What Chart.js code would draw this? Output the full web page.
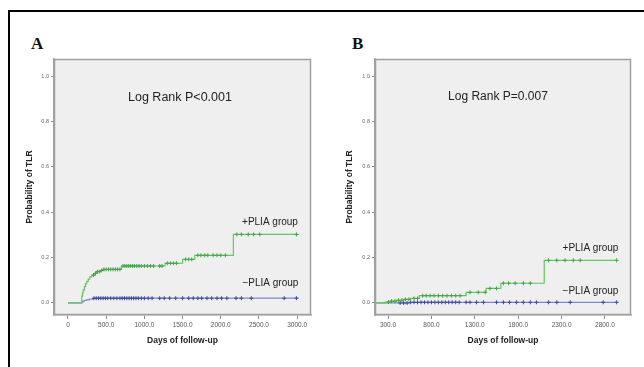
<!DOCTYPE html>
<html>
<head>
<meta charset="utf-8">
<script src="https://cdn.jsdelivr.net/npm/chart.js@4.4.1/dist/chart.umd.min.js"></script>
<style>
    body { margin: 0; background: #fff; width: 644px; height: 367px; overflow: hidden; position: relative; }
    #frame { position: absolute; left: 8px; top: 10px; right: -10px; bottom: -10px; border-left: 2px solid #000; border-top: 2px solid #000; }
    canvas { position: absolute; top: 0; }
    #chartA { left: 0; }
    #chartB { left: 322px; }
    .tag { position: absolute; top: 35px; font: bold 17px/17px "Liberation Serif", "Times New Roman", serif; color: #111; }
</style>
</head>
<body>
<div id="frame"></div>
<div class="tag" style="left:31px">A</div>
<div class="tag" style="left:352px">B</div>
<canvas id="chartA" width="322" height="367"></canvas>
<canvas id="chartB" width="322" height="367"></canvas>
<script>
// --- Axes ---
const yTicks = [0, 0.2, 0.4, 0.6, 0.8, 1.0];
const yTickLabels = ['0.0', '0.2', '0.4', '0.6', '0.8', '1.0'];
const xTicksA = [0, 500, 1000, 1500, 2000, 2500, 3000];
const xTickLabelsA = ['0', '500.0', '1000.0', '1500.0', '2000.0', '2500.0', '3000.0'];
const xTicksB = [300, 800, 1300, 1800, 2300, 2800];
const xTickLabelsB = ['300.0', '800.0', '1300.0', '1800.0', '2300.0', '2800.0'];

// --- Panel A (days, cumulative probability of TLR) ---
const plusTimesA = [0, 180, 190, 200, 215, 230, 245, 265, 285, 310, 340, 375, 420, 470, 700, 1270, 1500, 1660, 2165, 3015];
const plusValuesA = [0, 0.03, 0.045, 0.058, 0.072, 0.085, 0.095, 0.105, 0.115, 0.123, 0.13, 0.138, 0.143, 0.148, 0.163, 0.175, 0.192, 0.21, 0.302, 0.302];
const minusTimesA = [0, 180, 195, 215, 240, 280, 330, 3015];
const minusValuesA = [0, 0.004, 0.008, 0.011, 0.014, 0.017, 0.021, 0.021];
const plusCensorA = [335, 360, 385, 410, 440, 470, 500, 530, 560, 590, 620, 650, 680, 720, 745, 770, 795, 820, 845, 870, 900, 930, 960, 1000, 1040, 1080, 1120,
    1200, 1230, 1300, 1340, 1380, 1420, 1540, 1580, 1620, 1700, 1740, 1790, 1830, 1900, 1950, 2000, 2060, 2210, 2270, 2360, 2430, 2510, 2990];
const minusCensorA = [340, 370, 400, 430, 460, 490, 520, 560, 600, 640, 680, 710, 740, 770, 800, 830, 860, 890, 920, 960, 1000, 1050, 1100,
    1200, 1260, 1330, 1410, 1500, 1580, 1640, 1700, 1750, 1820, 1880, 1950, 2010, 2080, 2200, 2270, 2400, 2830, 2990];

// --- Panel B ---
const plusTimesB = [150, 270, 330, 400, 480, 560, 660, 1200, 1430, 1600, 2100, 2930];
const plusValuesB = [0, 0.004, 0.008, 0.012, 0.016, 0.02, 0.032, 0.047, 0.064, 0.087, 0.188, 0.188];
const minusTimesB = [150, 560, 2930];
const minusValuesB = [0, 0.003, 0.003];
const plusCensorB = [305, 340, 380, 420, 460, 500, 540, 600, 640, 700, 740, 785, 830, 880, 930, 980, 1030, 1080, 1130,
    1245, 1340, 1420, 1475, 1550, 1630, 1690, 1765, 1860, 1940, 2150, 2245, 2340, 2435, 2515, 2935];
const minusCensorB = [440, 480, 520, 560, 600, 640, 680, 720, 760, 800, 840, 880, 920, 960, 1000, 1040, 1080, 1120, 1200,
    1245, 1320, 1400, 1550, 1630, 1700, 1780, 1860, 1940, 2010, 2150, 2245, 2400, 2780, 2935];

const GREEN = '#62c862';
const GREEN_MARK = '#44a34a';
const BLUE = '#7d88c8';
const BLUE_MARK = '#3c4a9c';

function toXY(times, values) {
    return times.map((t, i) => ({ x: t, y: values[i] }));
}

// y of a censor mark = value of the step curve at that time
function censorXY(censor, times, values) {
    return censor.map(t => {
        let v = values[0];
        for (let i = 0; i < times.length; i++) {
            if (times[i] <= t) v = values[i];
        }
        return { x: t, y: v };
    });
}

// grey plot box + text notes
const plotBox = {
    id: 'plotBox',
    beforeDraw(chart) {
        const { ctx, chartArea: a } = chart;
        ctx.save();
        ctx.fillStyle = '#efefef';
        ctx.fillRect(a.left, a.top, a.width, a.height);
        ctx.restore();
    },
    afterDraw(chart, args, opts) {
        const { ctx, chartArea: a, scales } = chart;
        ctx.save();
        ctx.strokeStyle = '#a0a0a0';
        ctx.lineWidth = 1.5;
        ctx.strokeRect(a.left + 0.5, a.top + 0.5, a.width - 1, a.height - 1);
        ctx.textAlign = 'center';
        ctx.textBaseline = 'middle';
        ctx.fillStyle = '#222';
        (opts.notes || []).forEach(n => {
            ctx.font = n.size + 'px "Liberation Sans", Arial, sans-serif';
            ctx.fillText(n.text, scales.x.getPixelForValue(n.x), scales.y.getPixelForValue(n.y));
        });
        ctx.restore();
    }
};

function makeChart(id, o) {
    return new Chart(document.getElementById(id), {
        type: 'line',
        data: {
            datasets: [
                { data: censorXY(o.plusCensor, o.plusT, o.plusV), showLine: false, pointStyle: 'cross', pointRadius: 2, borderColor: GREEN_MARK, borderWidth: 1 },
                { data: censorXY(o.minusCensor, o.minusT, o.minusV), showLine: false, pointStyle: 'cross', pointRadius: 2, borderColor: BLUE_MARK, borderWidth: 1 },
                { data: toXY(o.plusT, o.plusV), stepped: true, borderColor: GREEN, borderWidth: 1.2, pointRadius: 0, fill: false },
                { data: toXY(o.minusT, o.minusV), stepped: true, borderColor: BLUE, borderWidth: 1.2, pointRadius: 0, fill: false }
            ]
        },
        options: {
            responsive: false,
            animation: false,
            layout: { padding: { top: 59, left: 0, right: o.padRight, bottom: 0 } },
            plugins: {
                legend: { display: false },
                tooltip: { enabled: false },
                plotBox: { notes: o.notes }
            },
            scales: {
                x: {
                    type: 'linear',
                    min: o.xMin,
                    max: o.xMax,
                    afterBuildTicks: s => { s.ticks = o.xTicks.map(v => ({ value: v })); },
                    afterFit: s => { s.height = 52; },
                    ticks: {
                        autoSkip: false, maxRotation: 0, padding: 2, color: '#555',
                        font: { size: 6.5, family: 'Liberation Sans' },
                        callback: (v, i) => o.xLabels[i]
                    },
                    grid: { drawOnChartArea: false, tickLength: 4, color: '#888' },
                    border: { color: '#a0a0a0', width: 1.5 },
                    title: {
                        display: true, text: 'Days of follow-up', color: '#222',
                        font: { size: 8.5, weight: 'bold', family: 'Liberation Sans' },
                        padding: { top: 0, bottom: 21 }
                    }
                },
                y: {
                    min: -0.053,
                    max: 1.075,
                    afterBuildTicks: s => { s.ticks = yTicks.map(v => ({ value: v })); },
                    afterFit: s => { s.width = o.yWidth; },
                    ticks: {
                        padding: 2, color: '#666',
                        font: { size: 5.5, family: 'Liberation Sans' },
                        callback: (v, i) => yTickLabels[i]
                    },
                    grid: { drawOnChartArea: false, tickLength: 3, color: '#888' },
                    border: { color: '#a0a0a0', width: 1.5 },
                    title: {
                        display: true, text: 'Probability of TLR', color: '#222',
                        font: { size: 8.5, weight: 'bold', family: 'Liberation Sans' },
                        padding: { top: o.yTitlePad, bottom: 0 }
                    }
                }
            }
        },
        plugins: [plotBox]
    });
}

makeChart('chartA', {
    plusT: plusTimesA, plusV: plusValuesA, minusT: minusTimesA, minusV: minusValuesA,
    plusCensor: plusCensorA, minusCensor: minusCensorA,
    xMin: -183, xMax: 3181, xTicks: xTicksA, xLabels: xTickLabelsA,
    yWidth: 54, yTitlePad: 25, padRight: 11,
    notes: [
        { text: 'Log Rank P<0.001', x: 1466, y: 0.903, size: 12.5 },
        { text: '+PLIA group', x: 2644, y: 0.357, size: 10 },
        { text: '\u2212PLIA group', x: 2650, y: 0.088, size: 10 }
    ]
});

makeChart('chartB', {
    plusT: plusTimesB, plusV: plusValuesB, minusT: minusTimesB, minusV: minusValuesB,
    plusCensor: plusCensorB, minusCensor: minusCensorB,
    xMin: 150, xMax: 3100, xTicks: xTicksB, xLabels: xTickLabelsB,
    yWidth: 53, yTitlePad: 23, padRight: 13,
    notes: [
        { text: 'Log Rank P=0.007', x: 1567, y: 0.907, size: 12 },
        { text: '+PLIA group', x: 2633, y: 0.242, size: 10 },
        { text: '\u2212PLIA group', x: 2633, y: 0.053, size: 10 }
    ]
});
</script>
</body>
</html>
